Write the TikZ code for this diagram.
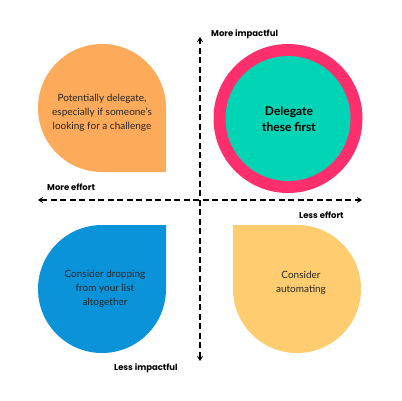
\documentclass[tikz,border=0pt]{standalone}
\usepackage{fontspec}
\setmainfont{Lato}
\newfontfamily\labfont{Poppins}
\usetikzlibrary{arrows.meta}
\definecolor{orangeq}{HTML}{FDAA5B}
\definecolor{tealq}{HTML}{00D4B5}
\definecolor{pinkq}{HTML}{FF2F6E}
\definecolor{blueq}{HTML}{0B93D9}
\definecolor{yellowq}{HTML}{FFCD6F}
\definecolor{txtq}{HTML}{262626}
\tikzset{
  qtext/.style={align=center, text=txtq, font=\fontsize{10}{13.8}\selectfont, inner sep=0pt},
  axislabel/.style={font=\labfont\bfseries\fontsize{8.5}{10}\selectfont, text=black, inner sep=0pt},
  axis/.style={line width=1.6pt, dash pattern=on 6pt off 3.5pt, {Stealth[length=5pt,width=6pt]}-{Stealth[length=5pt,width=6pt]}}
}
\begin{document}
\begin{tikzpicture}[x=1pt,y=1pt]
\useasboundingbox (0,0) rectangle (402,400);
\fill[white] (0,0) rectangle (402,400);
% orange (top-left)
\fill[orangeq] (166,292) -- (166,228) -- (102,228) arc[start angle=270,end angle=0,radius=64] -- cycle;
% blue (bottom-left)
\fill[blueq] (102,175) -- (166,175) -- (166,111) arc[start angle=0,end angle=-270,radius=64] -- cycle;
% yellow (bottom-right)
\fill[yellowq] (233,111) -- (233,175) -- (297,175) arc[start angle=90,end angle=-180,radius=64] -- cycle;
% pink ring + teal circle
\fill[pinkq] (288,281.5) circle[radius=74.5];
\fill[tealq] (288,281.5) circle[radius=62.5];
% texts
\node[qtext] (tl) at (102,287) {Potentially delegate,\\especially if someone's\\looking for a challenge};
\node[qtext, font=\bfseries\fontsize{12}{16.5}\selectfont, text=black] (tr) at (289,281) {Delegate\\these first};
\node[qtext] (bl) at (105,111) {Consider dropping\\from your list\\altogether};
\node[qtext] (br) at (301,117) {Consider\\automating};
% axes
\coordinate (xl) at (38,200);
\coordinate (xr) at (362,200);
\coordinate (yt) at (200,363);
\coordinate (yb) at (200,39);
\draw[axis] (xl) -- (xr);
\draw[axis] (yb) -- (yt);
% axis labels
\node[axislabel, anchor=west] (mi) at (211,366) {More impactful};
\node[axislabel, anchor=west] (li) at (114,32) {Less impactful};
\node[axislabel, anchor=west] (me) at (47,213) {More effort};
\node[axislabel, anchor=west] (le) at (299,185) {Less effort};
\end{tikzpicture}
\end{document}
